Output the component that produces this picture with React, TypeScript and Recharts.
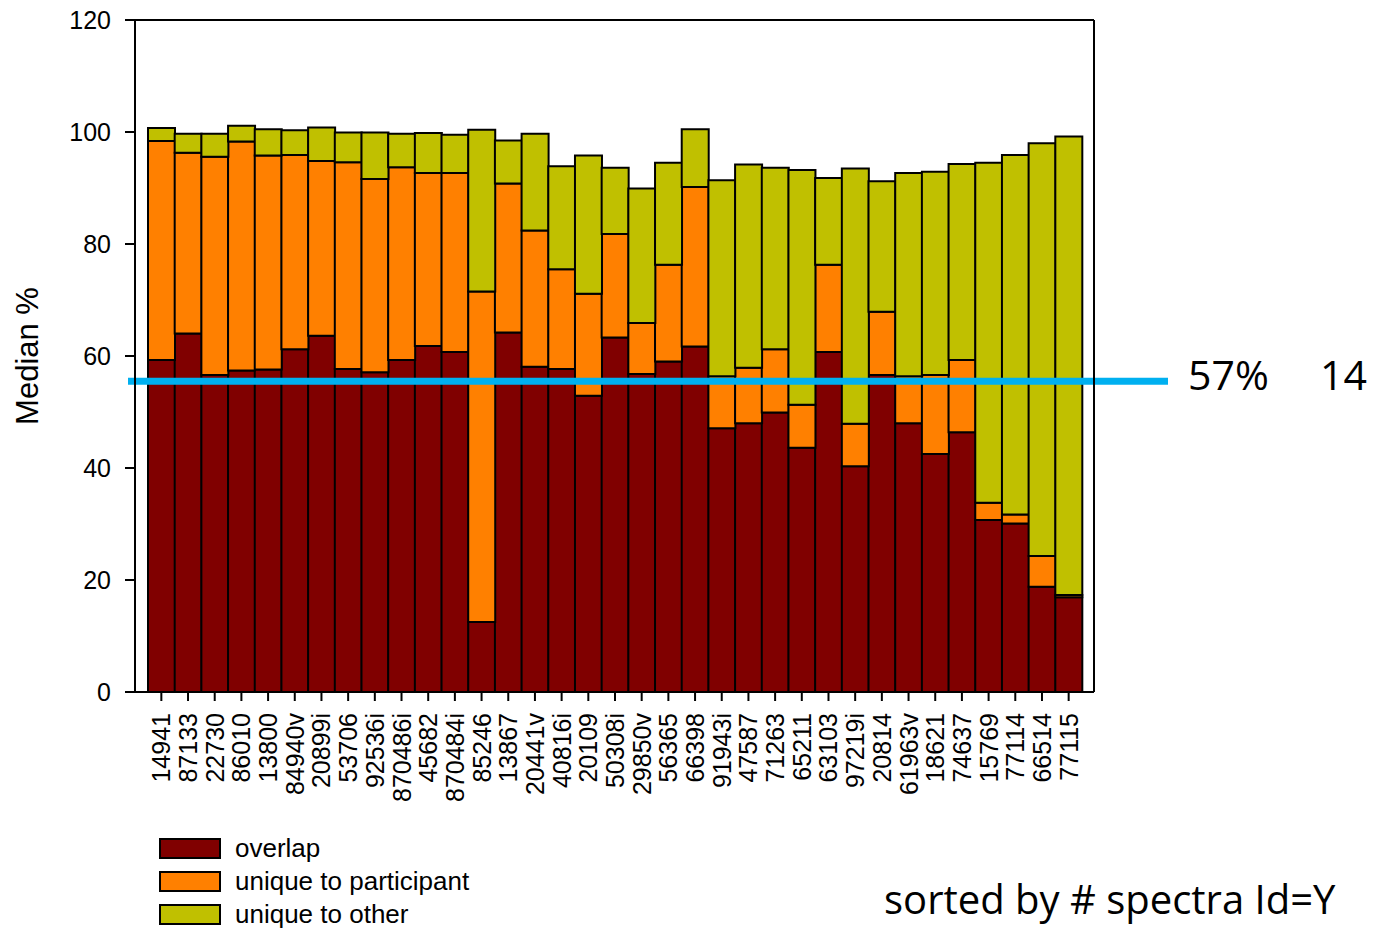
import React from 'react';
import { BarChart, Bar, XAxis, YAxis, Legend, ReferenceLine, Label } from 'recharts';

const categories = [
  '14941', '87133', '22730', '86010', '13800', '84940v', '20899i', '53706', '92536i',
  '870486i', '45682', '870484i', '85246', '13867', '20441v', '40816i', '20109', '50308i',
  '29850v', '56365', '66398', '91943i', '47587', '71263', '65211', '63103', '97219i',
  '20814', '61963v', '18621', '74637', '15769', '77114', '66514', '77115',
];

const overlap = [
  59.3, 64.0, 56.6, 57.4, 57.6, 61.2, 63.6, 57.7, 57.1, 59.3, 61.8, 60.7, 12.5, 64.2, 58.1,
  57.7, 52.9, 63.3, 56.8, 59.0, 61.7, 47.1, 48.0, 49.9, 43.6, 60.7, 40.3, 56.6, 48.0, 42.5,
  46.4, 30.7, 30.1, 18.8, 16.9,
];

const uniqueToParticipant = [
  39.1, 32.3, 39.0, 40.9, 38.2, 34.7, 31.2, 36.9, 34.5, 34.4, 30.9, 32.0, 59.0, 26.6, 24.3,
  17.8, 18.2, 18.5, 9.1, 17.3, 28.5, 9.3, 9.9, 11.3, 7.7, 15.6, 7.6, 11.3, 8.4, 14.1,
  12.9, 3.1, 1.6, 5.5, 0.4,
];

const uniqueToOther = [
  2.3, 3.4, 4.1, 2.8, 4.7, 4.4, 6.0, 5.3, 8.3, 6.0, 7.1, 6.8, 28.9, 7.7, 17.3,
  18.4, 24.7, 11.8, 24.0, 18.2, 10.3, 35.0, 36.3, 32.4, 41.9, 15.5, 45.6, 23.3, 36.3, 36.3,
  35.0, 60.7, 64.2, 73.7, 81.9,
];

const seriesNames = ['overlap', 'unique to participant', 'unique to other'];
const yTicks = [0, 20, 40, 60, 80, 100, 120];
const medianValue = 55.5;

const data = categories.map((name, i) => ({
  name,
  overlap: overlap[i],
  participant: uniqueToParticipant[i],
  other: uniqueToOther[i],
}));

const AXIS_FONT = '"Liberation Sans", Arial, sans-serif';
const NOTE_FONT = '"Open Sans", "Noto Sans", sans-serif';

const RotatedTick = (props: any) => {
  const { x, y, payload } = props;
  return (
    <text
      x={x}
      y={y}
      transform={`rotate(-90, ${x}, ${y})`}
      textAnchor="end"
      dy="0.36em"
      fontSize={25}
      fontFamily={AXIS_FONT}
      fill="#000"
    >
      {payload.value}
    </text>
  );
};

const MedianLine = (props: any) => {
  const { x1, x2, y1 } = props;
  return (
    <g>
      <line x1={x1 - 7} x2={x2 + 74} y1={y1} y2={y1} stroke="#00B0F0" strokeWidth={7} />
      <text x={x2 + 94} y={y1 + 9} fontSize={41} fontFamily={NOTE_FONT} fill="#000">57%</text>
      <text x={x2 + 226} y={y1 + 9} fontSize={41} fontFamily={NOTE_FONT} fill="#000">14</text>
    </g>
  );
};

const LegendBox = (props: any) => {
  const payload = [...(props.payload || [])].sort(
    (a: any, b: any) => seriesNames.indexOf(a.value) - seriesNames.indexOf(b.value)
  );
  return (
    <div>
      {payload.map((entry: any) => (
        <div key={entry.value} style={{ display: 'flex', alignItems: 'center', height: 33 }}>
          <div style={{ width: 58, height: 17, background: entry.color, border: '2px solid #000' }} />
          <span style={{ marginLeft: 14, fontSize: 26, fontFamily: AXIS_FONT, color: '#000', lineHeight: '33px' }}>
            {entry.value}
          </span>
        </div>
      ))}
    </div>
  );
};

export default function App() {
  return (
    <div style={{ position: 'absolute', left: 0, top: 0, width: 1383, height: 929, background: '#fff', overflow: 'hidden' }}>
      <BarChart
        width={1383}
        height={929}
        data={data}
        margin={{ top: 19, right: 288, bottom: 0, left: 0 }}
        barCategoryGap={0}
      >
        <XAxis
          dataKey="name"
          height={237}
          padding={{ left: 13, right: 12 }}
          interval={0}
          tick={<RotatedTick />}
          tickSize={9}
          tickMargin={12}
          axisLine={{ stroke: '#000', strokeWidth: 2 }}
          tickLine={{ stroke: '#000', strokeWidth: 2 }}
        />
        <XAxis xAxisId="top" dataKey="name" orientation="top" height={1} tick={false} tickLine={false}
          axisLine={{ stroke: '#000', strokeWidth: 2 }} />
        <YAxis
          width={135}
          domain={[0, 120]}
          ticks={yTicks}
          tickSize={10}
          tickMargin={14}
          tick={{ fontSize: 25, fontFamily: AXIS_FONT, fill: '#000' }}
          axisLine={{ stroke: '#000', strokeWidth: 2 }}
          tickLine={{ stroke: '#000', strokeWidth: 2 }}
        >
          <Label
            value="Median %"
            angle={-90}
            position="insideLeft"
            offset={27}
            style={{ fontSize: 31, fontFamily: AXIS_FONT, fill: '#000', textAnchor: 'middle' }}
          />
        </YAxis>
        <YAxis yAxisId="right" orientation="right" width={1} domain={[0, 120]} tick={false} tickLine={false}
          axisLine={{ stroke: '#000', strokeWidth: 2 }} />
        <Bar dataKey="overlap" name="overlap" stackId="s" fill="#800000" stroke="#000" strokeWidth={2} isAnimationActive={false} />
        <Bar dataKey="participant" name="unique to participant" stackId="s" fill="#FF8000" stroke="#000" strokeWidth={2} isAnimationActive={false} />
        <Bar dataKey="other" name="unique to other" stackId="s" fill="#C0C000" stroke="#000" strokeWidth={2} isAnimationActive={false} />
        <ReferenceLine y={medianValue} shape={<MedianLine />} />
        <Legend
          layout="vertical"
          align="center"
          verticalAlign="middle"
          content={<LegendBox />}
          wrapperStyle={{ left: 159, top: 832, width: 400, height: 100 }}
        />
      </BarChart>
      <div
        style={{
          position: 'absolute',
          left: 884,
          top: 874,
          fontSize: 40,
          fontFamily: NOTE_FONT,
          color: '#000',
          whiteSpace: 'nowrap',
          lineHeight: '50px',
        }}
      >
        sorted by # spectra Id=Y
      </div>
    </div>
  );
}
